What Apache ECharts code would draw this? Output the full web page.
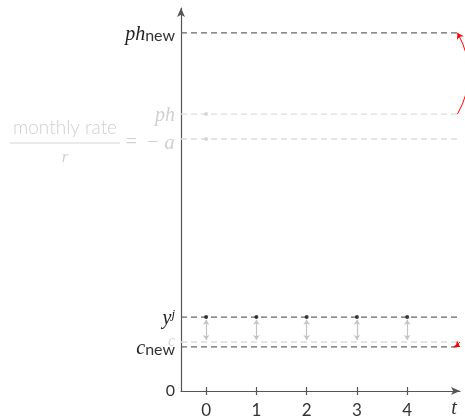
<!DOCTYPE html>
<html>
<head>
<meta charset="utf-8">
<script src="https://cdn.jsdelivr.net/npm/echarts@6/dist/echarts.min.js"></script>
<style>html,body{margin:0;padding:0;background:#fff;}#c{width:465px;height:419px;}</style>
</head>
<body>
<div id="c"></div>
<script>
// ---- data ----
const ts = [0, 1, 2, 3, 4];
const xTickLabels = ['0', '1', '2', '3', '4'];
const levelNames = ['ph_new', 'ph', '-a', 'y^j', 'c', 'c_new'];
const levelValues = [9.35, 7.23, 6.58, 1.93, 1.28, 1.15];
const levelDark = [true, false, false, true, false, true];
const faintDotT = [0, 0];
const faintDotY = [7.23, 6.58];

const PH_NEW = levelValues[0], PH = levelValues[1], A = levelValues[2];
const YJ = levelValues[3], C = levelValues[4], C_NEW = levelValues[5];

const SERIF = 'Liberation Serif';
const SANS = 'Lato';
const DARK = '#666';
const LIGHT = '#dcdcdc';

const labelText = {
  'ph_new': '{m|ph}{sub|new}',
  'ph': '{mg|ph}',
  '-a': '{num|monthly rate}{gap| }\n{bar| }{eq|=  −}{mga|a}\n{den|r}{gap| }',
  'y^j': '{m|y}{sup|j}',
  'c': '{mgc|c}',
  'c_new': '{m|c}{sub|new}',
  '0': '{zero|0}'
};
const mainLabelValues = [0, PH_NEW, PH, YJ, C_NEW];
const secondLabelValues = [C];
const thirdLabelValues = [A];

const series = [];
levelValues.forEach((v, i) => {
  series.push({
    type: 'line', silent: true, symbol: 'none', z: 2,
    data: [[-0.5, v], [5.0, v]],
    lineStyle: { type: [6, 4], width: 1.3, color: levelDark[i] ? DARK : LIGHT }
  });
});
series.push({
  type: 'lines', coordinateSystem: 'cartesian2d', silent: true, z: 3,
  symbol: ['arrow', 'arrow'], symbolSize: 5,
  lineStyle: { color: '#c4c4c4', width: 1.2, opacity: 1 },
  data: ts.map(t => ({ coords: [[t, YJ - 0.07], [t, C + 0.05]] }))
});
series.push({
  type: 'scatter', silent: true, symbolSize: 4, z: 4,
  itemStyle: { color: '#111' },
  data: ts.map(t => [t, YJ])
});
series.push({
  type: 'scatter', silent: true, symbolSize: 4, z: 4,
  itemStyle: { color: '#d0d0d0' },
  data: faintDotT.map((t, i) => [t, faintDotY[i]])
});
series.push({
  type: 'lines', coordinateSystem: 'cartesian2d', silent: true, z: 5, clip: false,
  symbol: ['none', 'arrow'], symbolSize: 6,
  lineStyle: { color: '#ff0000', width: 1, curveness: -0.28, opacity: 1 },
  data: [{ coords: [[5.0, PH], [5.0, PH_NEW]] }]
});
series.push({
  type: 'lines', coordinateSystem: 'cartesian2d', silent: true, z: 5, clip: false,
  symbol: ['none', 'arrow'], symbolSize: 6,
  lineStyle: { color: '#ff0000', width: 1, curveness: -0.8, opacity: 1 },
  data: [{ coords: [[5.05, C], [5.05, C_NEW]] }]
});

const richStyles = {
  m: { fontFamily: SERIF, fontStyle: 'italic', fontSize: 20, color: '#222', padding: [4, 0, 0, 0] },
  sub: { fontFamily: SANS, fontSize: 16, color: '#333', padding: [6, 0, 0, 0] },
  sup: { fontFamily: SERIF, fontStyle: 'italic', fontSize: 13, color: '#222', padding: [0, 0, 6, 0] },
  mg: { fontFamily: SERIF, fontStyle: 'italic', fontSize: 20, color: '#d0d0d0', padding: [3, 0, 0, 0] },
  mgc: { fontFamily: SERIF, fontStyle: 'italic', fontSize: 16, color: '#d8d8d8' },
  zero: { fontFamily: SANS, fontSize: 16, color: '#333' },
  num: { fontFamily: SANS, fontWeight: 300, fontSize: 19, color: '#d0d0d0', width: 110, align: 'center', lineHeight: 14 },
  gap: { width: 55, lineHeight: 14 },
  bar: { width: 110, height: 1, backgroundColor: '#d6d6d6', lineHeight: 16 },
  eq: { fontFamily: SERIF, fontSize: 20, color: '#d0d0d0', width: 44, align: 'right', lineHeight: 16 },
  mga: { fontFamily: SERIF, fontStyle: 'italic', fontSize: 21, color: '#d0d0d0', lineHeight: 16, width: 11, align: 'left' },
  den: { fontFamily: SERIF, fontStyle: 'italic', fontSize: 17, color: '#d0d0d0', width: 110, align: 'center', lineHeight: 14 }
};

function labelAxis(values, padding) {
  return {
    type: 'value', min: 0, max: 10, position: 'left', offset: 0,
    axisLine: { show: false, onZero: false },
    axisTick: { show: false },
    splitLine: { show: false },
    axisLabel: {
      customValues: values,
      hideOverlap: false,
      margin: 6,
      padding: padding,
      formatter: v => labelText[levelNames[levelValues.indexOf(v)]],
      rich: richStyles
    }
  };
}

const chart = echarts.init(document.getElementById('c'), null, { renderer: 'canvas' });
chart.setOption({
  animation: false,
  backgroundColor: '#fff',
  grid: { left: 181, right: 5, top: 8, bottom: 28, containLabel: false },
  xAxis: [{
    type: 'value', min: -0.5, max: 5.05,
    axisLine: { show: true, onZero: false, symbol: ['none', 'arrow'], symbolSize: [6, 9], lineStyle: { color: '#555', width: 1.2 } },
    axisTick: { show: true, customValues: ts, length: 4, lineStyle: { color: '#555', width: 1.2 } },
    axisLabel: { customValues: ts, formatter: v => xTickLabels[ts.indexOf(v)], fontFamily: SANS, fontSize: 17, color: '#333', margin: 11 },
    splitLine: { show: false },
    name: 't', nameLocation: 'end', nameGap: -6,
    nameTextStyle: { fontFamily: SERIF, fontStyle: 'italic', fontSize: 20, color: '#333', verticalAlign: 'top', align: 'center', padding: [8, 0, 0, 0] }
  }, {
    type: 'value', min: -0.5, max: 5.05, position: 'bottom',
    axisLine: { show: false, onZero: false },
    axisTick: { show: true, inside: true, customValues: ts, length: 4, lineStyle: { color: '#555', width: 1.2 } },
    axisLabel: { show: false },
    splitLine: { show: false }
  }],
  yAxis: [{
    type: 'value', min: 0, max: 10,
    axisLine: { show: true, onZero: false, symbol: ['none', 'arrow'], symbolSize: [6, 9], lineStyle: { color: '#555', width: 1.2 } },
    axisTick: { show: false },
    splitLine: { show: false },
    axisLabel: {
      customValues: mainLabelValues,
      hideOverlap: false,
      margin: 6,
      formatter: v => {
        if (v === 0) return labelText['0'];
        return labelText[levelNames[levelValues.indexOf(v)]];
      },
      rich: richStyles
    }
  }, labelAxis(secondLabelValues, [0, 0, 0, 0]), labelAxis(thirdLabelValues, [8, 0, 0, 0])],
  series: series
});
</script>
</body>
</html>
